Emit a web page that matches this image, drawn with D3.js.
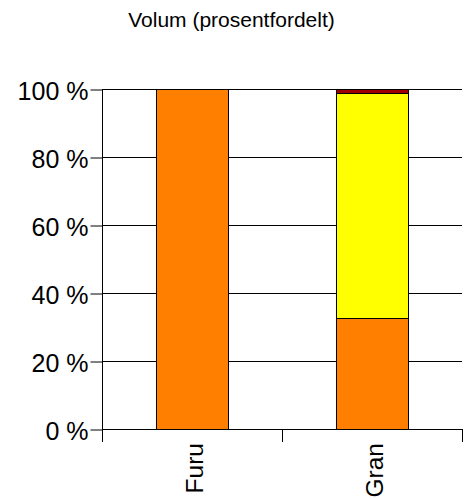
<!DOCTYPE html>
<html><head><meta charset="utf-8">
<script src="https://cdn.jsdelivr.net/npm/d3@7"></script>
<style>html,body{margin:0;padding:0;background:#fff;}svg{display:block;font-family:Arial,"Liberation Sans",sans-serif;}</style>
</head><body>
<svg id="c" width="464" height="499"></svg>
<script>
const title = "Volum (prosentfordelt)";
const categories = ["Furu", "Gran"];
const seriesNames = ["Serie 1", "Serie 2", "Serie 3"];
const seriesColors = ["#FF8000", "#FFFF00", "#A00000"];
const serie1 = [100, 32.6];
const serie2 = [0, 66.1];
const serie3 = [0, 1.3];
const yTicks = [0, 20, 40, 60, 80, 100];
const yTickLabels = ["0 %", "20 %", "40 %", "60 %", "80 %", "100 %"];

(function () {
const svg = d3.select("#c");
const pL = 102, pR = 462, pT = 89, pB = 429;
const x = d3.scaleBand().domain(categories).range([pL, pR]).padding(0);
const y = d3.scaleLinear().domain([0, 100]).range([pB, pT]);

svg.append("text").attr("x", 231.5).attr("y", 27).attr("text-anchor", "middle")
  .attr("font-size", 21).attr("fill", "#000").text(title);

// gridlines
svg.append("g").selectAll("line").data(yTicks.filter(d => d > 0)).join("line")
  .attr("x1", pL).attr("x2", pR)
  .attr("y1", d => Math.round(y(d)) + 0.5).attr("y2", d => Math.round(y(d)) + 0.5)
  .attr("stroke", "#000").attr("stroke-width", 1);

// stacked bars
const rows = categories.map((c, i) => ({cat: c, s0: serie1[i], s1: serie2[i], s2: serie3[i]}));
const stack = d3.stack().keys(["s0", "s1", "s2"])(rows);
const bw = x.bandwidth() * 0.4;
stack.forEach((layer, li) => {
  svg.append("g").selectAll("rect").data(layer.filter(d => d[1] - d[0] > 0)).join("rect")
    .attr("x", d => Math.round(x(d.data.cat) + (x.bandwidth() - bw) / 2) + 0.5)
    .attr("width", Math.round(bw))
    .attr("y", d => Math.round(y(d[1])) + 0.5)
    .attr("height", d => Math.round(y(d[0])) - Math.round(y(d[1])))
    .attr("fill", seriesColors[li]).attr("stroke", "#000").attr("stroke-width", 1);
});

// y axis
const yAxis = d3.axisLeft(y).tickValues(yTicks).tickFormat((d, i) => yTickLabels[i]).tickSize(12).tickPadding(2);
const gy = svg.append("g").attr("transform", `translate(${pL + 0.5},0.5)`).call(yAxis);
gy.select(".domain").remove();
gy.selectAll("text").attr("font-size", 25).attr("dy", "0.4em").attr("font-family", "Arial,'Liberation Sans',sans-serif").attr("fill", "#000");
gy.selectAll("line").attr("stroke", "#000");
svg.append("line").attr("x1", pL + 0.5).attr("x2", pL + 0.5).attr("y1", pT).attr("y2", pB + 13).attr("stroke", "#000");

// x axis
svg.append("line").attr("x1", pL).attr("x2", pR + 1).attr("y1", pB + 0.5).attr("y2", pB + 0.5).attr("stroke", "#000");
const edges = categories.map(c => x(c) + x.bandwidth()).concat([x(categories[0])]);
svg.append("g").selectAll("line").data(edges).join("line")
  .attr("x1", d => Math.round(d) + 0.5).attr("x2", d => Math.round(d) + 0.5)
  .attr("y1", pB).attr("y2", pB + 13).attr("stroke", "#000");

svg.append("g").selectAll("text").data(categories).join("text")
  .attr("transform", d => `translate(${x(d) + x.bandwidth() / 2 + 11},${pB + 14}) rotate(-90)`)
  .attr("text-anchor", "end").attr("font-size", 24.5).attr("fill", "#000").text(d => d);
})();
</script>
</body></html>
